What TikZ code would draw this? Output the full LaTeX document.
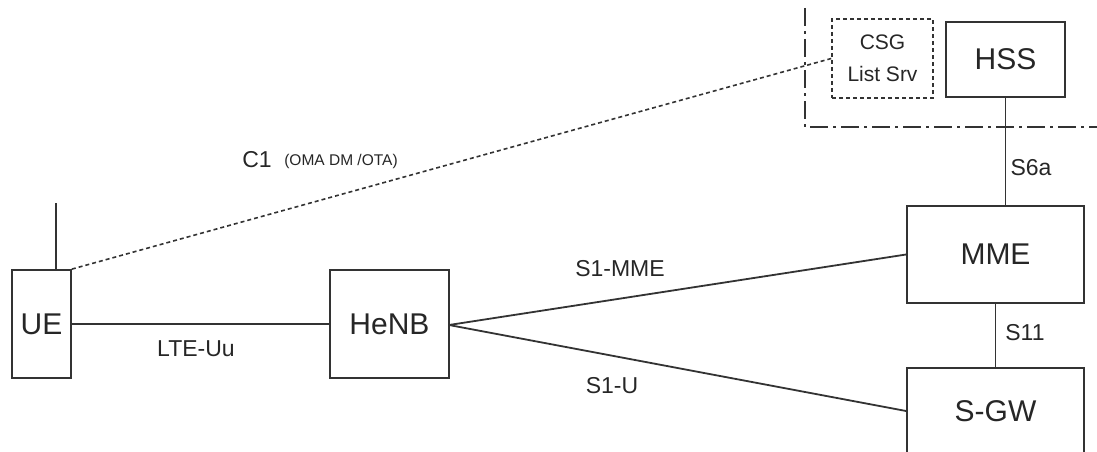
\documentclass[tikz,border=0pt]{standalone}
\usepackage{fontspec}
\setmainfont{Liberation Sans}
\begin{document}
\begin{tikzpicture}[x=1pt,y=-1pt,
  line width=1.8pt, draw=black!80,
  box/.style={draw=black!80, line width=1.8pt, inner sep=0pt, font=\fontsize{30}{30}\selectfont, text=black!85},
  lbl/.style={font=\fontsize{23}{23}\selectfont, text=black!85, inner sep=0pt},
  dotline/.style={line width=1.6pt, dash pattern=on 4pt off 3pt},
  dashdot/.style={line width=2.2pt, dash pattern=on 18pt off 5pt on 3pt off 5pt}]
\useasboundingbox (0,0) rectangle (1097,452);
\node[box, minimum width=59pt, minimum height=108pt] (ue) at (41.5,324) {UE};
\node[box, minimum width=119pt, minimum height=108pt] (henb) at (389.5,324) {HeNB};
\node[box, minimum width=177pt, minimum height=97pt] (mme) at (995.5,254.5) {MME};
\node[box, minimum width=177pt, minimum height=110pt] (sgw) at (995.5,423) {};
\node[font=\fontsize{30}{30}\selectfont, text=black!85] (sgwt) at (995.5,411) {S-GW};
\node[box, minimum width=119pt, minimum height=75pt] (hss) at (1005.5,59.5) {HSS};
\node[draw=black!80, line width=1.5pt, dash pattern=on 4pt off 3pt, minimum width=101pt, minimum height=79pt, inner sep=0pt, align=center, font=\fontsize{21}{32}\selectfont, text=black!85] (csg) at (882.5,58.5) {CSG\\List Srv};
% antenna
\coordinate (ant) at (56,203);
\draw (ue.north -| ant) -- (ant);
% LTE-Uu
\draw (ue) -- (henb);
\node[lbl] (lteuu) at (196,349) {LTE-Uu};
% S1-MME / S1-U
\coordinate (henbr) at (449,325);
\draw (henbr) -- (mme.west);
\draw (henbr) -- (sgw.west |- sgwt);
\node[lbl] (s1mme) at (620,269) {S1-MME};
\node[lbl] (s1u) at (612,386) {S1-U};
% S11
\draw (mme.south) -- (sgw.north);
\node[lbl] (s11) at (1025,333) {S11};
% S6a
\draw (hss.south) -- (hss.south |- mme.north);
\node[lbl] (s6a) at (1031,168) {S6a};
% C1
\draw[dotline] (ue.north east) -- (csg.west);
\node[lbl] (c1) at (257,160) {C1};
\node[font=\fontsize{15.5}{16}\selectfont, text=black!85, inner sep=0pt] (oma) at (341,161) {(OMA DM /OTA)};
% dash-dot boundary
\coordinate (bt) at (805,8);
\coordinate (bc) at (805,127);
\coordinate (br) at (1097,127);
\draw[dashdot] (bt) -- (bc) -- (br);
\end{tikzpicture}
\end{document}
